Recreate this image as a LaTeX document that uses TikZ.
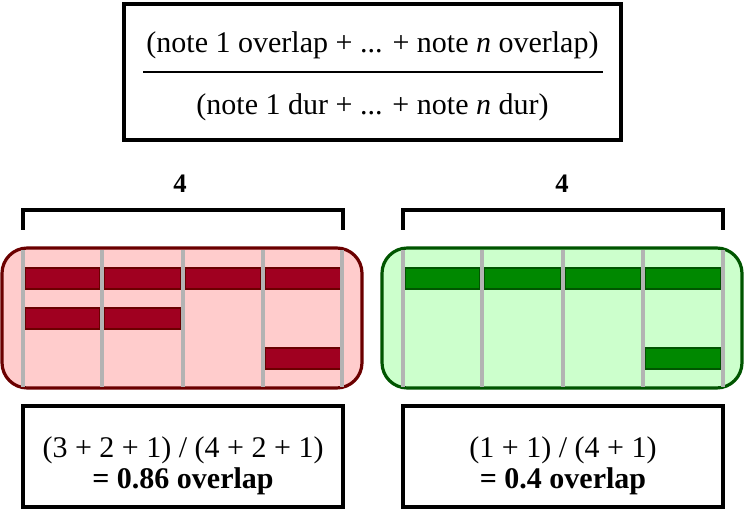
\documentclass[tikz,border=0pt]{standalone}
\usepackage{fontspec}
\setmainfont{Liberation Serif}
\definecolor{redborder}{HTML}{6B0000}
\definecolor{redfill}{HTML}{FFCCCC}
\definecolor{redbar}{HTML}{A00020}
\definecolor{greenborder}{HTML}{005500}
\definecolor{greenfill}{HTML}{CCFFCC}
\definecolor{greenbar}{HTML}{008800}
\definecolor{gridgrey}{HTML}{B3B3B3}
\tikzset{
  box/.style={draw=black, line width=2.4pt},
  panelred/.style={draw=redborder, fill=redfill, line width=2.4pt, rounded corners=19pt},
  panelgreen/.style={draw=greenborder, fill=greenfill, line width=2.4pt, rounded corners=19pt},
  barred/.style={draw=redborder, fill=redbar, line width=1.1pt},
  bargreen/.style={draw=greenborder, fill=greenbar, line width=1.1pt},
  gridline/.style={draw=gridgrey, line width=2.4pt},
  brack/.style={draw=black, line width=2.4pt},
  txt/.style={font=\fontsize{22.5}{26}\selectfont, inner sep=0pt, anchor=base},
  btxt/.style={font=\fontsize{22.5}{26}\selectfont\bfseries, inner sep=0pt, anchor=base},
  numtxt/.style={font=\fontsize{20}{24}\selectfont\bfseries, inner sep=0pt, anchor=base},
}
\begin{document}
\begin{tikzpicture}[x=0.75pt, y=-0.75pt]
\useasboundingbox (0,0) rectangle (744,510);
% top formula box
\draw[box] (124,4) rectangle (621,140);
\node[txt] (num) at (372.5,53) {(note 1 overlap + ... + note \textit{n} overlap)};
\node[txt] (den) at (372.5,115) {(note 1 dur + ... + note \textit{n} dur)};
\draw[line width=1.5pt] (143,72) -- (603,72);
% brackets
\node[numtxt] (fourL) at (180,193) {4};
\node[numtxt] (fourR) at (562,193) {4};
\draw[brack] (23,230) -- (23,210) -- (343,210) -- (343,230);
\draw[brack] (403,230) -- (403,210) -- (723,210) -- (723,230);
% left panel
\draw[panelred] (2,248) rectangle (362,388);
\foreach \a/\b in {25/100,104/181,185/261,265/341} \draw[barred] (\a,268) rectangle (\b,289);
\foreach \a/\b in {25/100,104/181} \draw[barred] (\a,308) rectangle (\b,329);
\draw[barred] (265,348) rectangle (341,369);
\foreach \x in {23,102,183,263,342} \draw[gridline] (\x,250) -- (\x,387);
% right panel
\draw[panelgreen] (382,248) rectangle (742,388);
\foreach \a/\b in {405/480,484/561,565/641,645/721} \draw[bargreen] (\a,268) rectangle (\b,289);
\draw[bargreen] (645,348) rectangle (721,369);
\foreach \x in {403,482,563,643,723} \draw[gridline] (\x,250) -- (\x,387);
% bottom boxes
\draw[box] (23,406) rectangle (343,507);
\node[txt] (l1) at (183,457) {(3 + 2 + 1) / (4 + 2 + 1)};
\node[btxt] (l2) at (183,488) {= 0.86 overlap};
\draw[box] (403,406) rectangle (723,507);
\node[txt] (r1) at (563,457) {(1 + 1) / (4 + 1)};
\node[btxt] (r2) at (563,488) {= 0.4 overlap};
\end{tikzpicture}
\end{document}
